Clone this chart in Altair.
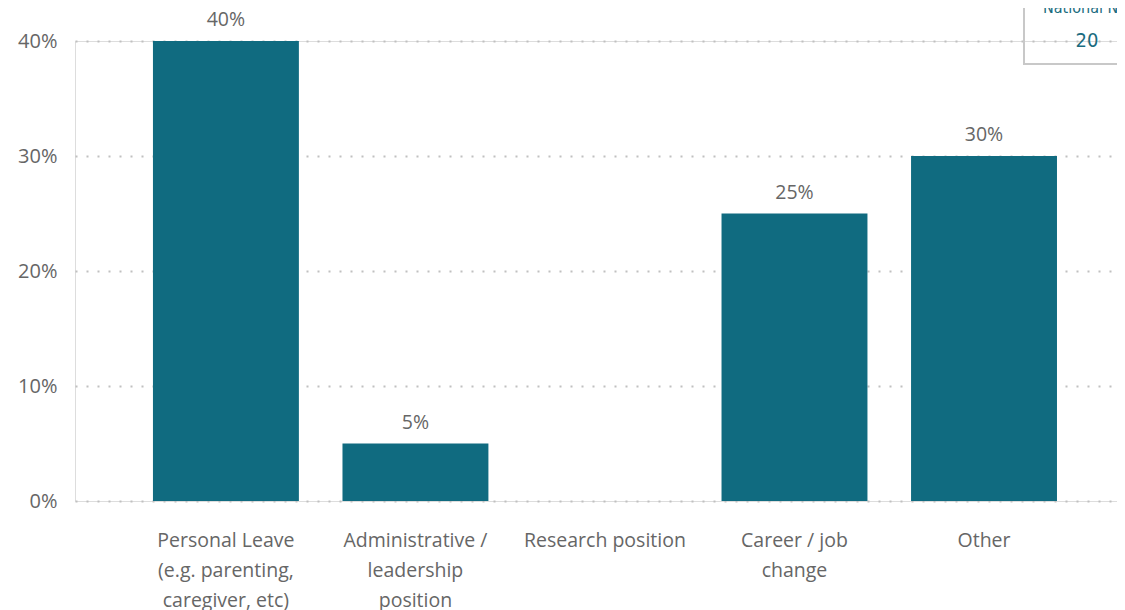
import altair as alt
import pandas as pd

categories = [
    "Personal Leave\n(e.g. parenting,\ncaregiver, etc)",
    "Administrative /\nleadership\nposition",
    "Research position",
    "Career / job\nchange",
    "Other",
]
values = [0.40, 0.05, 0.0, 0.25, 0.30]
card_title = ["National N"]
card_value = ["20"]

df = pd.DataFrame({"category": categories, "value": values})
card_df = pd.DataFrame({"title": card_title, "value": card_value})

TEAL = "#106B80"
GRAY = "#666666"
FONT = "Open Sans"

x = alt.X(
    "category:N",
    sort=categories,
    title=None,
    scale=alt.Scale(paddingInner=0.23, paddingOuter=0.364, align=0.565),
    axis=alt.Axis(
        labelAngle=0,
        labelExpr="split(datum.label, '\\n')",
        labelLineHeight=30,
        labelFontSize=19.5,
        labelColor=GRAY,
        labelFont=FONT,
        labelPadding=30,
        labelLimit=300,
        ticks=False,
        domain=False,
        grid=False,
    ),
)
y = alt.Y(
    "value:Q",
    title=None,
    scale=alt.Scale(domain=[0, 0.4]),
    axis=alt.Axis(
        format=".0%",
        values=[0, 0.1, 0.2, 0.3, 0.4],
        labelFontSize=20,
        labelColor=GRAY,
        labelFont=FONT,
        labelPadding=18,
        ticks=False,
        domain=False,
        grid=True,
        gridColor="#C0C0C0",
        gridDash=[2, 9],
        gridWidth=2,
    ),
)

bars = alt.Chart(df).mark_bar(color=TEAL).encode(x=x, y=y)

labels = (
    alt.Chart(df)
    .transform_filter("datum.value > 0")
    .mark_text(dy=-21, fontSize=19.5, color=GRAY, font=FONT)
    .encode(x=x, y=y, text=alt.Text("value:Q", format=".0%"))
)

card_box = alt.Chart(card_df).mark_rect(
    fill="transparent", stroke="#C8C8C8", strokeWidth=2
).encode(
    x=alt.value(949), x2=alt.value(1200), y=alt.value(-60), y2=alt.value(23)
)
card_title_t = alt.Chart(card_df).mark_text(
    align="left", baseline="alphabetic", fontSize=16, fontWeight=500,
    color="#1B6C80", font="DejaVu Sans Condensed"
).encode(x=alt.value(968), y=alt.value(-28), text="title:N")
card_value_t = alt.Chart(card_df).mark_text(
    align="center", baseline="middle", fontSize=20,
    color="#1B6C80", font="DejaVu Sans Condensed"
).encode(x=alt.value(1012), y=alt.value(0), text="value:N")

chart = (
    alt.layer(bars, labels, card_box, card_title_t, card_value_t)
    .properties(
        width=1042,
        height=460,
        autosize=alt.AutoSizeParams(type="none"),
        padding={"left": 67, "top": 33, "right": 0, "bottom": 110},
    )
    .configure_view(stroke=None)
    .configure(background="white")
)

chart.save("out.html", embed_options={"renderer": "svg", "actions": False})
